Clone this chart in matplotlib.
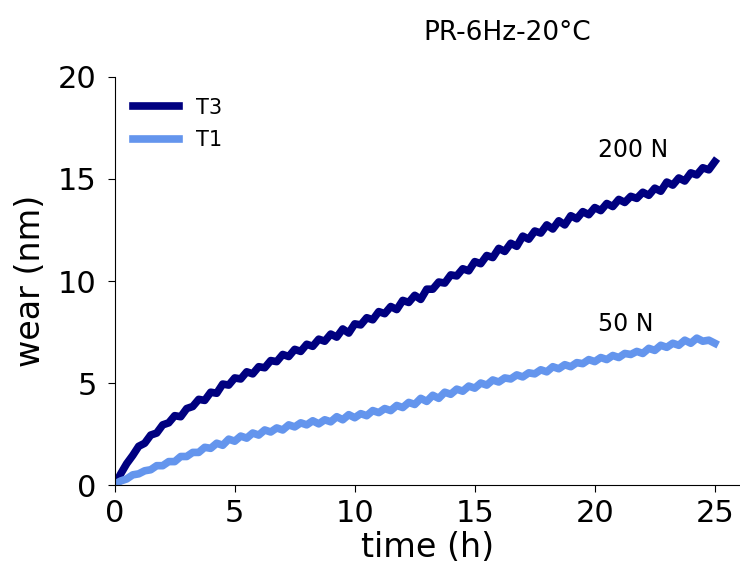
import matplotlib
matplotlib.use("Agg")
import matplotlib.pyplot as plt
import numpy as np

# time axis, 0.25 h steps
time = np.arange(0, 25.01, 0.25)

# wear T3 (200 N)
t3 = [0.00, 0.55, 1.05, 1.45, 1.90, 2.05, 2.45, 2.55, 2.95, 3.05,
      3.40, 3.35, 3.75, 3.85, 4.20, 4.15, 4.55, 4.50, 4.95, 4.90,
      5.25, 5.20, 5.55, 5.45, 5.80, 5.75, 6.10, 6.05, 6.40, 6.30,
      6.65, 6.55, 6.90, 6.80, 7.15, 7.05, 7.40, 7.25, 7.65, 7.45,
      7.90, 7.85, 8.20, 8.10, 8.50, 8.40, 8.75, 8.60, 9.05, 8.95,
      9.30, 9.10, 9.60, 9.60, 9.95, 9.90, 10.30, 10.25, 10.60, 10.50,
      10.95, 10.85, 11.25, 11.15, 11.60, 11.45, 11.85, 11.70, 12.20, 12.05,
      12.45, 12.35, 12.75, 12.55, 12.95, 12.75, 13.20, 13.05, 13.40, 13.25,
      13.60, 13.45, 13.80, 13.65, 14.00, 13.85, 14.15, 14.05, 14.35, 14.20,
      14.55, 14.40, 14.85, 14.70, 15.05, 14.90, 15.30, 15.20, 15.55, 15.45,
      15.85]

# wear T1 (50 N)
t1 = [0.05, 0.20, 0.30, 0.50, 0.55, 0.70, 0.75, 0.95, 0.95, 1.15,
      1.15, 1.40, 1.40, 1.60, 1.60, 1.85, 1.80, 2.05, 1.95, 2.25,
      2.15, 2.40, 2.30, 2.55, 2.45, 2.70, 2.60, 2.80, 2.70, 2.95,
      2.85, 3.05, 2.95, 3.15, 3.00, 3.20, 3.10, 3.35, 3.20, 3.45,
      3.30, 3.50, 3.40, 3.65, 3.55, 3.75, 3.65, 3.90, 3.80, 4.05,
      3.95, 4.25, 4.10, 4.40, 4.25, 4.55, 4.45, 4.70, 4.60, 4.85,
      4.75, 5.00, 4.90, 5.15, 5.05, 5.25, 5.20, 5.40, 5.30, 5.50,
      5.45, 5.65, 5.55, 5.80, 5.70, 5.90, 5.80, 6.00, 5.95, 6.15,
      6.05, 6.25, 6.15, 6.35, 6.25, 6.45, 6.40, 6.55, 6.45, 6.70,
      6.60, 6.85, 6.75, 6.95, 6.85, 7.10, 6.95, 7.20, 7.05, 7.10,
      6.95]

fig = plt.figure(figsize=(7.4, 5.66), dpi=100)
ax = fig.add_axes([0.155, 0.143, 0.845, 0.721])

ax.plot(time, t3, color="navy", lw=5.5, label="T3")
ax.plot(time, t1, color="cornflowerblue", lw=5.5, label="T1")

ax.set_xlim(0, 26.05)
ax.set_ylim(0, 20)
ax.set_xticks([0, 5, 10, 15, 20, 25])
ax.set_yticks([0, 5, 10, 15, 20])
ax.tick_params(labelsize=22, length=5)
ax.tick_params(axis="x", pad=5)
ax.tick_params(axis="y", pad=8)
ax.spines["top"].set_visible(False)
ax.spines["right"].set_visible(False)

ax.set_xlabel("time (h)", fontsize=24, labelpad=2)
ax.set_ylabel("wear (nm)", fontsize=24, labelpad=8)
fig.text(0.685, 0.942, "PR-6Hz-20°C", fontsize=19, ha="center", va="center")

ax.text(21.6, 16.4, "200 N", fontsize=17, ha="center", va="center")
ax.text(21.3, 7.9, "50 N", fontsize=17, ha="center", va="center")

ax.legend(loc="upper left", frameon=False, fontsize=15, handlelength=2.2,
          labelspacing=0.6, bbox_to_anchor=(0.0, 0.995))

fig.savefig("out.png", dpi=100)
